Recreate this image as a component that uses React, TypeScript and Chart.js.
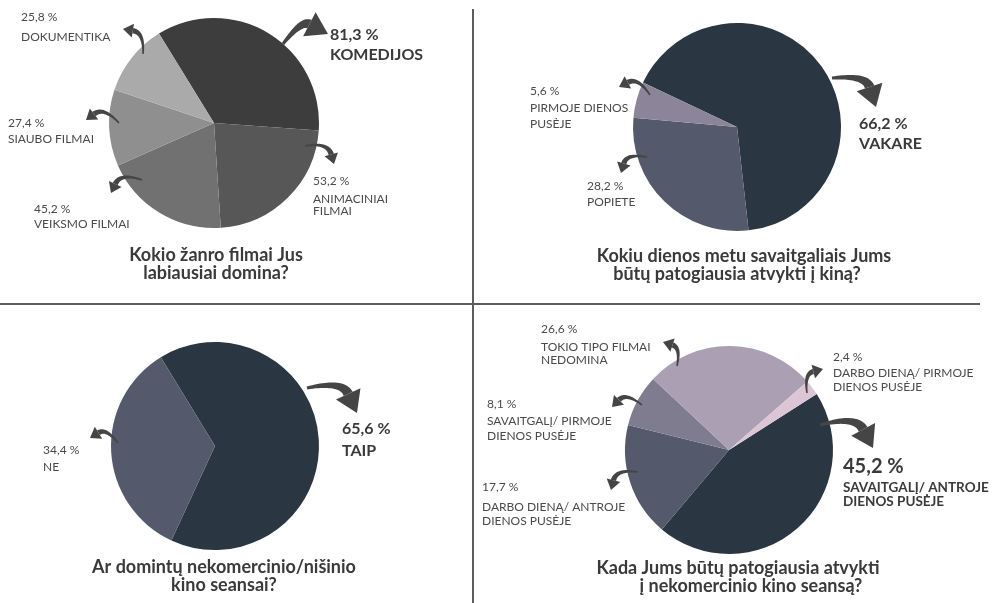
import React, { useEffect, useRef } from "react";
import { Chart, registerables } from "chart.js";

Chart.register(...registerables);

// ---------- DATA ----------
const genreNames = ["KOMEDIJOS", "ANIMACINIAI\nFILMAI", "VEIKSMO FILMAI", "SIAUBO FILMAI", "DOKUMENTIKA"];
const genreValues = [81.3, 53.2, 45.2, 27.4, 25.8];
const genreTitle = ["Kokio žanro filmai Jus", "labiausiai domina?"];

const timeNames = ["VAKARE", "POPIETE", "PIRMOJE DIENOS\nPUSĖJE"];
const timeValues = [66.2, 28.2, 5.6];
const timeTitle = ["Kokiu dienos metu savaitgaliais Jums", "būtų patogiausia atvykti į kiną?"];

const nicheNames = ["TAIP", "NE"];
const nicheValues = [65.6, 34.4];
const nicheTitle = ["Ar domintų nekomercinio/nišinio", "kino seansai?"];

const sessionNames = [
  "SAVAITGALĮ/ ANTROJE\nDIENOS PUSĖJE",
  "DARBO DIENĄ/ ANTROJE\nDIENOS PUSĖJE",
  "SAVAITGALĮ/ PIRMOJE\nDIENOS PUSĖJE",
  "TOKIO TIPO FILMAI\nNEDOMINA",
  "DARBO DIENĄ/ PIRMOJE\nDIENOS PUSĖJE",
];
const sessionValues = [45.2, 17.7, 8.1, 26.6, 2.4];
const sessionTitle = ["Kada Jums būtų patogiausia atvykti", "į nekomercinio kino seansą?"];

// ---------- STYLE / LAYOUT ----------
const genreColors = ["#3d3d3d", "#575757", "#717171", "#8f8f8f", "#aaaaaa"];
const navyColors2 = ["#2b3643", "#545a6b", "#8c8599"];
const navyColors3 = ["#2b3643", "#545a6b"];
const sessionColors = ["#2b3643", "#545a6b", "#807c8f", "#ab9fb3", "#dcc6d6"];

type Lab = { x: number; vy: number; ny: number; gap?: number; big?: boolean; huge?: boolean };
type Arr = { t: [number, number]; p: [number, number]; bend: number; big?: boolean };
type Quad = {
  ox: number; oy: number; w: number; h: number;
  cx: number; cy: number; r: number; rotation: number;
  names: string[]; values: number[]; colors: string[];
  labels: Lab[]; arrows: Arr[]; title: string[]; titleX: number[]; titleY: number[];
};

const quads: Quad[] = [
  {
    ox: 0, oy: 0, w: 472, h: 303, cx: 214, cy: 123, r: 105, rotation: -31.6,
    names: genreNames, values: genreValues, colors: genreColors,
    labels: [
      { x: 330, vy: 35, ny: 55, big: true },
      { x: 313, vy: 181, ny: 199, gap: 12 },
      { x: 34, vy: 209, ny: 224 },
      { x: 8, vy: 123, ny: 139 },
      { x: 21, vy: 17, ny: 37 },
    ],
    arrows: [
      { t: [283, 44], p: [328, 34], bend: 0.42, big: true },
      { t: [305, 146], p: [334, 164], bend: 0.45 },
      { t: [142, 180], p: [111, 193], bend: -0.45 },
      { t: [119, 123], p: [86, 120], bend: -0.45 },
      { t: [143, 54], p: [123, 29], bend: -0.45 },
    ],
    title: genreTitle, titleX: [216, 216], titleY: [255, 273],
  },
  {
    ox: 472, oy: 0, w: 520, h: 303, cx: 737, cy: 127, r: 104, rotation: -64.7,
    names: timeNames, values: timeValues, colors: navyColors2,
    labels: [
      { x: 859, vy: 124, ny: 144, big: true },
      { x: 587, vy: 186, ny: 202 },
      { x: 530, vy: 91, ny: 108, gap: 16 },
    ],
    arrows: [
      { t: [832, 78], p: [876, 107], bend: 0.4, big: true },
      { t: [647, 157], p: [621, 173], bend: -0.45 },
      { t: [650, 95], p: [619, 87], bend: -0.45 },
    ],
    title: timeTitle, titleX: [744, 737], titleY: [256, 274],
  },
  {
    ox: 0, oy: 303, w: 472, h: 300, cx: 215, cy: 446, r: 104, rotation: -31.4,
    names: nicheNames, values: nicheValues, colors: navyColors3,
    labels: [
      { x: 342, vy: 429, ny: 451, big: true },
      { x: 43, vy: 450, ny: 467 },
    ],
    arrows: [
      { t: [307, 388], p: [357, 413], bend: 0.4, big: true },
      { t: [118, 443], p: [90, 438], bend: -0.45 },
    ],
    title: nicheTitle, titleX: [224, 224], titleY: [567, 585],
  },
  {
    ox: 472, oy: 303, w: 520, h: 300, cx: 729, cy: 450, r: 104, rotation: 57.5,
    names: sessionNames, values: sessionValues, colors: sessionColors,
    labels: [
      { x: 843, vy: 467, ny: 488, gap: 14, big: true, huge: true },
      { x: 482, vy: 487, ny: 507, gap: 14 },
      { x: 487, vy: 404, ny: 421, gap: 15 },
      { x: 541, vy: 329, ny: 347, gap: 13 },
      { x: 833, vy: 357, ny: 373, gap: 14 },
    ],
    arrows: [
      { t: [820, 425], p: [873, 448], bend: 0.4, big: true },
      { t: [638, 472], p: [611, 490], bend: -0.45 },
      { t: [642, 405], p: [612, 407], bend: -0.45 },
      { t: [677, 366], p: [663, 342], bend: -0.45 },
      { t: [807, 393], p: [823, 369], bend: 0.45 },
    ],
    title: sessionTitle, titleX: [738, 751], titleY: [568, 586],
  },
];

const FONT = "Lato, 'Open Sans', sans-serif";

function fmt(v: number) {
  return v.toFixed(1).replace(".", ",") + " %";
}

function drawArrow(ctx: CanvasRenderingContext2D, T: number[], P: number[], bend: number, big?: boolean) {
  const L = big ? 21 : 10;
  const H = big ? 27 : 14;
  const w1 = big ? 10 : 5.5;
  const w0 = big ? 3 : 1.5;
  const dx = P[0] - T[0], dy = P[1] - T[1];
  const len = Math.hypot(dx, dy);
  const nx = dy / len, ny = -dx / len;
  const C = [(T[0] + P[0]) / 2 + nx * bend * len, (T[1] + P[1]) / 2 + ny * bend * len];
  let tx = P[0] - C[0], ty = P[1] - C[1];
  const tl = Math.hypot(tx, ty);
  tx /= tl; ty /= tl;
  const B = [P[0] - tx * L, P[1] - ty * L];
  const N = 24;
  const left: number[][] = [], right: number[][] = [];
  for (let i = 0; i <= N; i++) {
    const t = i / N;
    const a = (1 - t) * (1 - t), b = 2 * (1 - t) * t, c = t * t;
    const qx = a * T[0] + b * C[0] + c * B[0];
    const qy = a * T[1] + b * C[1] + c * B[1];
    let ddx = 2 * (1 - t) * (C[0] - T[0]) + 2 * t * (B[0] - C[0]);
    let ddy = 2 * (1 - t) * (C[1] - T[1]) + 2 * t * (B[1] - C[1]);
    const dl = Math.hypot(ddx, ddy) || 1;
    ddx /= dl; ddy /= dl;
    const w = w0 + (w1 - w0) * t;
    left.push([qx - ddy * w / 2, qy + ddx * w / 2]);
    right.push([qx + ddy * w / 2, qy - ddx * w / 2]);
  }
  ctx.beginPath();
  ctx.moveTo(left[0][0], left[0][1]);
  for (const p of left) ctx.lineTo(p[0], p[1]);
  for (let i = right.length - 1; i >= 0; i--) ctx.lineTo(right[i][0], right[i][1]);
  ctx.closePath();
  ctx.fill();
  const hx = -ty, hy = tx;
  ctx.beginPath();
  ctx.moveTo(B[0] + hx * H / 2, B[1] + hy * H / 2);
  ctx.lineTo(P[0], P[1]);
  ctx.lineTo(B[0] - hx * H / 2, B[1] - hy * H / 2);
  ctx.closePath();
  ctx.fill();
}

function makePlugin(q: Quad) {
  return {
    id: "annot",
    afterDraw(chart: any) {
      const ctx: CanvasRenderingContext2D = chart.ctx;
      ctx.save();
      ctx.translate(-q.ox, -q.oy);
      // arrows
      ctx.fillStyle = "#454545";
      q.arrows.forEach((a) => drawArrow(ctx, a.t, a.p, a.bend, a.big));
      // labels
      ctx.textAlign = "left";
      ctx.textBaseline = "middle";
      q.labels.forEach((lab, i) => {
        const lines = q.names[i].split("\n");
        if (lab.big) {
          ctx.fillStyle = "#3a3a3a";
          ctx.font = `bold ${lab.huge ? 20 : 16}px ${FONT}`;
          ctx.fillText(fmt(q.values[i]), lab.x, lab.vy);
          ctx.font = `bold ${lab.huge ? 13.5 : 16}px ${FONT}`;
        } else {
          ctx.fillStyle = "#4a4a4a";
          ctx.font = `12px ${FONT}`;
          ctx.fillText(fmt(q.values[i]), lab.x, lab.vy);
        }
        lines.forEach((ln, j) => {
          ctx.fillText(ln, lab.x, lab.ny + j * (lab.gap ?? 15));
        });
      });
      // title
      ctx.fillStyle = "#3a3a3a";
      ctx.textAlign = "center";
      ctx.font = `bold 18px ${FONT}`;
      q.title.forEach((t, j) => ctx.fillText(t, q.titleX[j], q.titleY[j]));
      ctx.restore();
    },
  };
}

function PieQuad({ q }: { q: Quad }) {
  const ref = useRef<HTMLCanvasElement>(null);
  useEffect(() => {
    if (!ref.current) return;
    const lx = q.cx - q.ox, ly = q.cy - q.oy;
    const chart = new Chart(ref.current, {
      type: "pie",
      data: {
        labels: q.names.map((n) => n.replace("\n", " ")),
        datasets: [
          {
            data: q.values,
            backgroundColor: q.colors,
            borderWidth: 0,
          },
        ],
      },
      options: {
        animation: false,
        responsive: false,
        rotation: q.rotation,
        layout: {
          padding: {
            left: lx - q.r,
            top: ly - q.r,
            right: q.w - (lx + q.r),
            bottom: q.h - (ly + q.r),
          },
        },
        plugins: {
          legend: { display: false },
          tooltip: { enabled: false },
        },
      },
      plugins: [makePlugin(q)],
    });
    return () => chart.destroy();
  }, [q]);
  return (
    <canvas
      ref={ref}
      width={q.w}
      height={q.h}
      style={{ position: "absolute", left: q.ox, top: q.oy, width: q.w, height: q.h }}
    />
  );
}

export default function App() {
  useEffect(() => {
    document.body.style.margin = "0";
    document.body.style.background = "#ffffff";
  }, []);
  return (
    <div style={{ position: "relative", width: 992, height: 603, background: "#fff", overflow: "hidden" }}>
      {quads.map((q, i) => (
        <PieQuad key={i} q={q} />
      ))}
      <div style={{ position: "absolute", left: 472, top: 9, width: 1.5, height: 594, background: "#5c5c5c" }} />
      <div style={{ position: "absolute", left: 0, top: 303, width: 980, height: 1.5, background: "#5c5c5c" }} />
    </div>
  );
}
